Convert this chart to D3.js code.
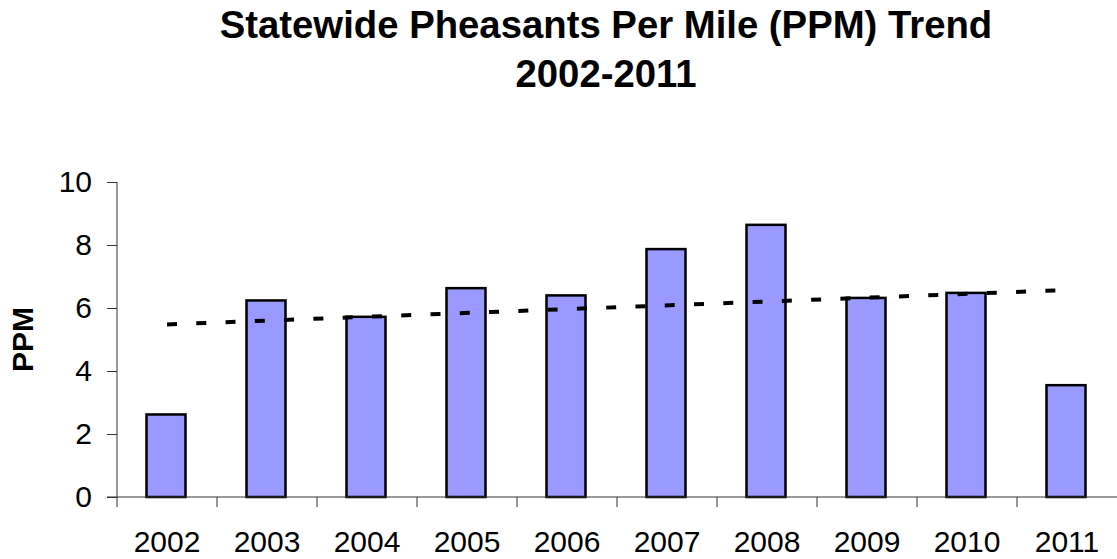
<!DOCTYPE html>
<html>
<head>
<meta charset="utf-8">
<script src="https://cdn.jsdelivr.net/npm/d3@7"></script>
<style>
  html, body { margin: 0; padding: 0; background: #fff; }
  svg { display: block; font-family: "Liberation Sans", Arial, sans-serif; }
</style>
</head>
<body>
<svg id="chart" width="1117" height="559"></svg>
<script>
// ---- data ----
const years = ["2002","2003","2004","2005","2006","2007","2008","2009","2010","2011"];
const ppm = [2.62, 6.24, 5.72, 6.63, 6.40, 7.87, 8.64, 6.32, 6.48, 3.55];
const trendYears = ["2002", "2011"];
const trendValues = [5.48, 6.57];
const yTicks = [0, 2, 4, 6, 8, 10];
const titleLines = ["Statewide Pheasants Per Mile (PPM) Trend", "2002-2011"];
const yLabel = "PPM";

// ---- layout ----
const svg = d3.select("#chart");
const plotLeft = 117, plotRight = 1117, plotTop = 182, plotBottom = 497;

const x = d3.scaleBand().domain(years).range([plotLeft, plotRight]).paddingInner(0).paddingOuter(0);
const y = d3.scaleLinear().domain([0, 10]).range([plotBottom, plotTop]);

// title
svg.append("g").selectAll("text").data(titleLines).join("text")
  .attr("x", 606)
  .attr("y", (d, i) => 38 + i * 49)
  .attr("text-anchor", "middle")
  .attr("font-size", 38.3)
  .attr("font-weight", "bold")
  .attr("fill", "#000")
  .text(d => d);

// bars
const barW = 39;
svg.append("g").selectAll("rect").data(ppm).join("rect")
  .attr("x", (d, i) => x(years[i]) + x.bandwidth() / 2 - barW / 2 - 1)
  .attr("y", d => y(d))
  .attr("width", barW)
  .attr("height", d => y(0) - y(d))
  .attr("fill", "#9999FF")
  .attr("stroke", "#000")
  .attr("stroke-width", 2.5);

// y axis
const yAxis = d3.axisLeft(y).tickValues(yTicks).tickSize(10).tickPadding(15).tickFormat(d3.format("d"));
const gy = svg.append("g").attr("transform", `translate(${plotLeft},0)`).call(yAxis);
gy.select(".domain").attr("stroke", "#333").attr("d", `M0,${plotTop}V${plotBottom + 10}`);
gy.selectAll(".tick line").attr("stroke", "#333");
gy.selectAll(".tick text").attr("font-size", 30).attr("fill", "#000")
  .attr("font-family", "'Liberation Sans', Arial, sans-serif");

// x axis
const xAxis = d3.axisBottom(x).tickSize(0).tickPadding(34);
const gx = svg.append("g").attr("transform", `translate(0,${plotBottom})`).call(xAxis);
gx.select(".domain").attr("stroke", "#333").attr("d", `M${plotLeft - 10},0H${plotRight}`);
gx.selectAll(".tick text").attr("font-size", 30).attr("fill", "#000")
  .attr("font-family", "'Liberation Sans', Arial, sans-serif");
// boundary ticks between categories
gx.append("g").selectAll("line").data(years.slice(1)).join("line")
  .attr("x1", d => x(d)).attr("x2", d => x(d))
  .attr("y1", 0).attr("y2", 10)
  .attr("stroke", "#333");

// trend line
const trendLine = d3.line()
  .x((d, i) => x(trendYears[i]) + x.bandwidth() / 2)
  .y(d => y(d));
svg.append("path")
  .datum(trendValues)
  .attr("d", trendLine)
  .attr("fill", "none")
  .attr("stroke", "#000")
  .attr("stroke-width", 4)
  .attr("stroke-dasharray", "10,19.3");

// y label
svg.append("text")
  .attr("transform", `translate(33,${(plotTop + plotBottom) / 2}) rotate(-90)`)
  .attr("text-anchor", "middle")
  .attr("font-size", 30)
  .attr("font-weight", "bold")
  .attr("fill", "#000")
  .text(yLabel);
</script>
</body>
</html>
